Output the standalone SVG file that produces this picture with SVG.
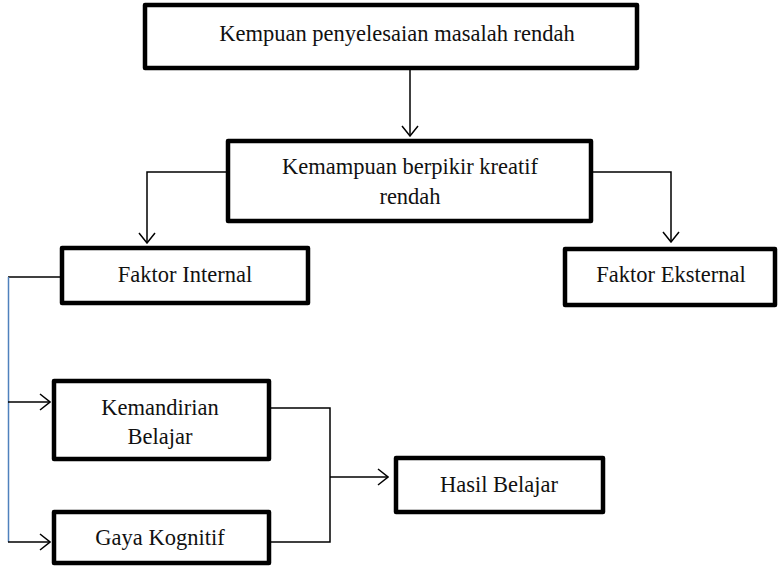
<svg xmlns="http://www.w3.org/2000/svg" width="778" height="567" viewBox="0 0 778 567">
<style>
.box{fill:#fff;stroke:#000;stroke-width:4.5;stroke-linejoin:round}
.t{font-family:"Liberation Serif","Times New Roman",serif;font-size:22.5px;fill:#111;text-anchor:middle}
.c{fill:none;stroke:#000;stroke-width:1.5}
.b{fill:none;stroke:#4f81bd;stroke-width:1.5}
</style>
<defs>
<marker id="ah" viewBox="0 0 12 18" refX="11" refY="9" markerWidth="12" markerHeight="18" markerUnits="userSpaceOnUse" orient="auto">
<path d="M1,1 L11,9 L1,17" fill="none" stroke="#000" stroke-width="1.5"/>
</marker>
</defs>
<g id="connectors">
<line class="c" x1="410" y1="68" x2="410" y2="136" marker-end="url(#ah)"/>
<polyline class="c" points="228,172 147,172 147,243" marker-end="url(#ah)"/>
<polyline class="c" points="591,172 671,172 671,242" marker-end="url(#ah)"/>
<line class="c" x1="61" y1="277" x2="8" y2="277"/>
<line class="b" x1="8.5" y1="277" x2="8.5" y2="542"/>
<line class="c" x1="8" y1="402" x2="50" y2="402" marker-end="url(#ah)"/>
<line class="c" x1="8" y1="542" x2="50" y2="542" marker-end="url(#ah)"/>
<polyline class="c" points="269,408 330,408 330,542 269,542"/>
<line class="c" x1="330" y1="477" x2="388" y2="477" marker-end="url(#ah)"/>
</g>
<g id="n1"><rect class="box" x="145" y="5" width="492" height="63"/><text class="t" x="397" y="41">Kempuan penyelesaian masalah rendah</text></g>
<g id="n2"><rect class="box" x="228" y="141" width="363" height="80"/><text class="t" x="410" y="174">Kemampuan berpikir kreatif</text><text class="t" x="410" y="204">rendah</text></g>
<g id="n3"><rect class="box" x="62" y="248" width="246" height="55"/><text class="t" x="185" y="282">Faktor Internal</text></g>
<g id="n4"><rect class="box" x="565" y="249" width="210" height="56"/><text class="t" x="671" y="282">Faktor Eksternal</text></g>
<g id="n5"><rect class="box" x="54" y="381" width="215" height="78"/><text class="t" x="160" y="415">Kemandirian</text><text class="t" x="160" y="444">Belajar</text></g>
<g id="n6"><rect class="box" x="54" y="512" width="215" height="51"/><text class="t" x="160" y="545">Gaya Kognitif</text></g>
<g id="n7"><rect class="box" x="396" y="458" width="207" height="54"/><text class="t" x="499" y="492">Hasil Belajar</text></g>
</svg>
